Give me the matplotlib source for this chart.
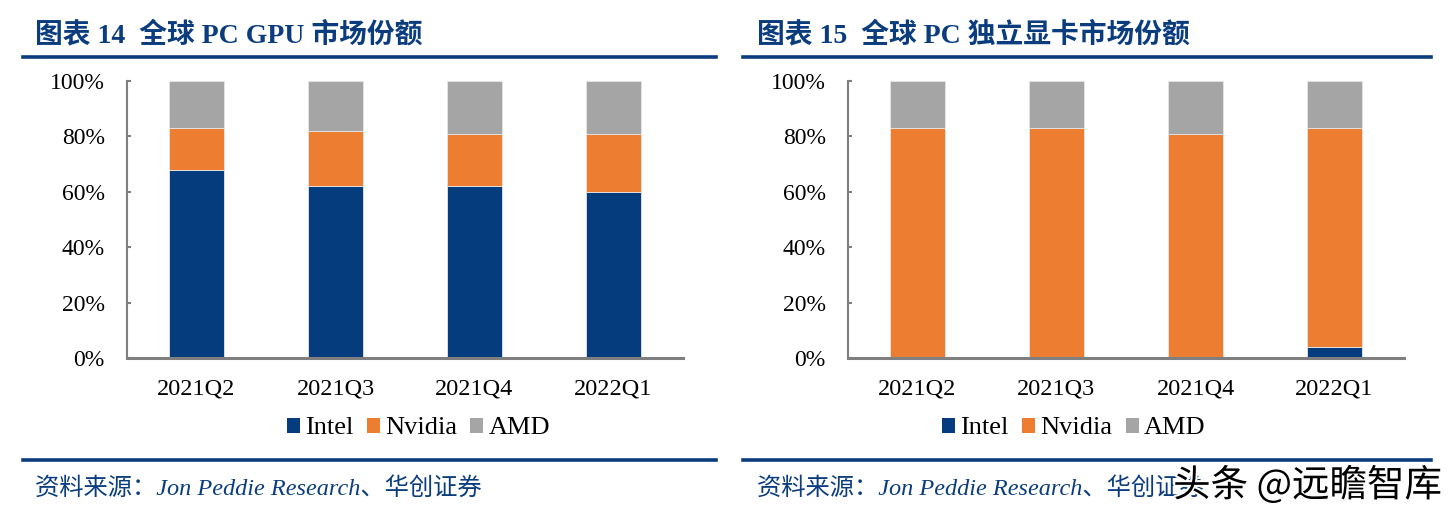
import matplotlib
matplotlib.use("Agg")
import matplotlib.pyplot as plt
import matplotlib.patheffects as pe
from matplotlib.patches import Patch

quarters = ["2021Q2", "2021Q3", "2021Q4", "2022Q1"]
# Chart 14: global PC GPU market share (%)
gpu_intel = [68, 62, 62, 60]
gpu_nvidia = [15, 20, 19, 21]
gpu_amd = [17, 18, 19, 19]
# Chart 15: global PC discrete GPU market share (%)
dgpu_intel = [0, 0, 0, 4]
dgpu_nvidia = [83, 83, 81, 79]
dgpu_amd = [17, 17, 19, 17]

series_names = ["Intel", "Nvidia", "AMD"]
colors = ["#053C7D", "#ED7D31", "#A5A5A5"]
yticks = [0, 20, 40, 60, 80, 100]
ytick_labels = ["0%", "20%", "40%", "60%", "80%", "100%"]

titles = ["图表 14  全球 PC GPU 市场份额", "图表 15  全球 PC 独立显卡市场份额"]
source = "资料来源：Jon Peddie Research、华创证券"

W, H = 1455, 515
fig = plt.figure(figsize=(W / 100, H / 100), dpi=100)
fig.patch.set_facecolor("white")

serif_cjk = ["Liberation Serif", "Noto Sans CJK SC"]
navy = "#0B3D7E"


def draw(ax, intel, nvidia, amd, legend_x):
    x = list(range(len(quarters)))
    bottoms2 = [a + b for a, b in zip(intel, nvidia)]
    for vals, bot, c in ((intel, [0] * 4, colors[0]), (nvidia, intel, colors[1]), (amd, bottoms2, colors[2])):
        ax.bar(x, vals, bottom=bot, width=0.4, color=c, edgecolor="#E6E6E6", linewidth=0.6, zorder=2)
    ax.set_xlim(-0.5, 3.5)
    ax.set_ylim(0, 100)
    ax.set_yticks(yticks)
    ax.set_yticklabels(ytick_labels, fontfamily="Liberation Serif", fontsize=17)
    ax.set_xticks(x)
    ax.set_xticklabels(quarters, fontfamily="Liberation Serif", fontsize=17.5)
    ax.tick_params(axis="y", direction="in", length=3, width=1.5, color="#7F7F7F", pad=16)
    ax.tick_params(axis="x", length=0, pad=15)
    for s in ("top", "right"):
        ax.spines[s].set_visible(False)
    ax.spines["left"].set_color("#7F7F7F")
    ax.spines["left"].set_linewidth(1.5)
    ax.spines["bottom"].set_color("#7F7F7F")
    ax.spines["bottom"].set_linewidth(2.2)
    handles = [Patch(facecolor=c, edgecolor="none") for c in colors]
    ax.legend(handles, series_names, loc="upper center", bbox_to_anchor=(legend_x, -0.205), ncol=3,
              frameon=False, prop={"family": "Liberation Serif", "size": 19},
              handlelength=0.5, handleheight=0.5, handletextpad=0.2, columnspacing=0.5,
              borderaxespad=0, borderpad=0.1)


axes_specs = [(127, gpu_intel, gpu_nvidia, gpu_amd, 0.524),
              (848, dgpu_intel, dgpu_nvidia, dgpu_amd, 0.406)]
for (left_px, a, b, c, lx) in axes_specs:
    ax = fig.add_axes([left_px / W, 1 - 358 / H, 556 / W, (358 - 81) / H])
    draw(ax, a, b, c, lx)

panels = [(23, 716, 35), (743, 1431, 757)]
for (x0, x1, tx), title in zip(panels, titles):
    fig.add_artist(plt.Line2D([x0 / W, x1 / W], [1 - 57 / H, 1 - 57 / H], color=navy, linewidth=2.6))
    fig.add_artist(plt.Line2D([x0 / W, x1 / W], [1 - 460 / H, 1 - 460 / H], color=navy, linewidth=2.6))
    fig.text(tx / W, 1 - 35 / H, title, fontsize=20, fontweight="bold", color=navy,
             family=serif_cjk, va="center", ha="left")
    fig.text(tx / W, 1 - 488 / H, source, fontsize=17.5, style="italic", color=navy,
             family=serif_cjk, va="center", ha="left")

fig.text(1442 / W, 1 - 486 / H, "头条 @远瞻智库", fontsize=27, color="black",
         family=["Noto Sans CJK SC", "DejaVu Sans"], va="center", ha="right",
         path_effects=[pe.withStroke(linewidth=3, foreground="white")])

fig.savefig("out.png", dpi=100, facecolor="white")
